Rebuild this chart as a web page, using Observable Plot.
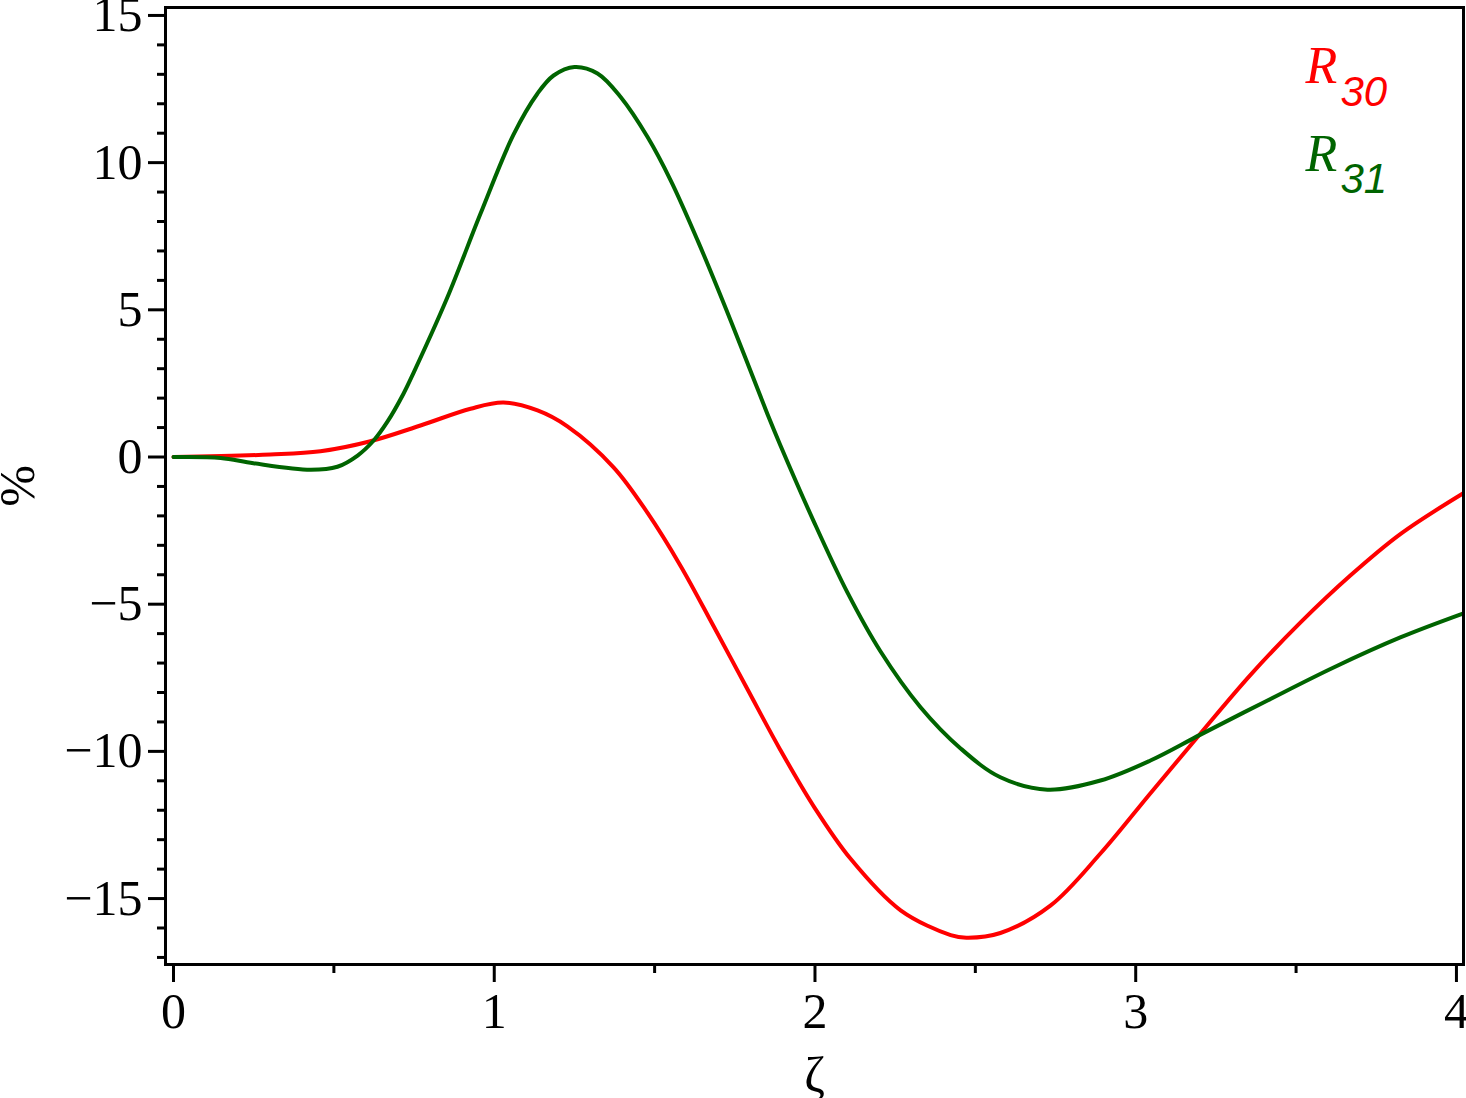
<!DOCTYPE html>
<html>
<head>
<meta charset="utf-8">
<script src="https://cdn.jsdelivr.net/npm/d3@7"></script>
<script src="https://cdn.jsdelivr.net/npm/@observablehq/plot@0.6"></script>
<style>
  html, body { margin: 0; padding: 0; background: #fff; }
  #chart svg { display: block; }
</style>
</head>
<body>
<div id="chart"></div>
<script>
// ζ values and series values
const zeta30 = [0, 0.302, 0.458, 0.614, 0.770, 0.926, 1.029, 1.135, 1.228, 1.372, 1.478, 1.581, 1.684, 1.790, 1.892, 1.998, 2.111, 2.267, 2.423, 2.472, 2.578, 2.734, 2.890, 3.046, 3.202, 3.358, 3.514, 3.670, 3.825, 4.02];
const r30 = [0, 0.085, 0.197, 0.537, 1.07, 1.64, 1.85, 1.58, 1.04, -0.35, -1.90, -3.70, -5.75, -7.90, -9.95, -11.90, -13.65, -15.40, -16.24, -16.33, -16.17, -15.24, -13.47, -11.42, -9.39, -7.40, -5.62, -4.02, -2.62, -1.24];

const zeta31 = [0, 0.147, 0.249, 0.427, 0.511, 0.574, 0.624, 0.667, 0.717, 0.748, 0.853, 0.957, 1.060, 1.135, 1.185, 1.250, 1.322, 1.394, 1.478, 1.550, 1.634, 1.737, 1.852, 1.892, 1.995, 2.101, 2.204, 2.329, 2.454, 2.578, 2.725, 2.890, 3.046, 3.202, 3.411, 3.617, 3.825, 4.02];
const r31 = [0, -0.03, -0.21, -0.43, -0.33, 0.05, 0.56, 1.20, 2.15, 2.85, 5.40, 8.26, 10.95, 12.35, 12.96, 13.25, 13.03, 12.23, 10.87, 9.40, 7.36, 4.64, 1.45, 0.40, -2.16, -4.60, -6.60, -8.50, -9.90, -10.88, -11.30, -10.99, -10.31, -9.43, -8.27, -7.15, -6.13, -5.32];

const seriesBase = ["R", "R"];
const seriesSub = ["30", "31"];
const seriesColor = ["#ff0000", "#006400"];

const xMajor = [0, 1, 2, 3, 4];
const xMinor = [0.5, 1.5, 2.5, 3.5];
const yMajor = [-15, -10, -5, 0, 5, 10, 15];
const yMinor = d3.range(-17, 16).filter(v => v % 5 !== 0);

const xLabel = "ζ";
const yLabel = "%";

const data30 = zeta30.map((z, i) => ({z, v: r30[i]}));
const data31 = zeta31.map((z, i) => ({z, v: r31[i]}));

const serif = "'Liberation Serif', 'Times New Roman', serif";
const sans = "'Liberation Sans', Arial, sans-serif";

const plot = Plot.plot({
  width: 1466,
  height: 1098,
  marginLeft: 165,
  marginRight: 3,
  marginTop: 7,
  marginBottom: 134,
  style: {fontFamily: serif, fontSize: "50px", background: "white", color: "black"},
  x: {domain: [-0.025, 4.022]},
  y: {domain: [-17.24, 15.27]},
  marks: [
    Plot.axisX(xMajor, {tickSize: 18, tickPadding: 10, strokeWidth: 3, fontSize: 50, label: null, tickFormat: d => String(d)}),
    Plot.axisX(xMinor, {tickSize: 9, strokeWidth: 3, label: null, tickFormat: () => ""}),
    Plot.axisY(yMajor, {tickSize: 17, tickPadding: 6, strokeWidth: 3, fontSize: 50, label: null, tickFormat: d => d < 0 ? "\u2212" + Math.abs(d) : String(d)}),
    Plot.axisY(yMinor, {tickSize: 8, strokeWidth: 3, label: null, tickFormat: () => ""}),
    Plot.line(data30, {x: "z", y: "v", stroke: seriesColor[0], strokeWidth: 4, curve: "catmull-rom"}),
    Plot.line(data31, {x: "z", y: "v", stroke: seriesColor[1], strokeWidth: 4, curve: "catmull-rom"}),
    Plot.frame({stroke: "black", strokeWidth: 3}),
    // legend
    Plot.text([seriesBase[0]], {text: d => d, frameAnchor: "top-right", dx: -158, dy: 75, textAnchor: "start", lineAnchor: "bottom", fill: seriesColor[0], fontSize: 52, fontStyle: "italic", fontFamily: serif}),
    Plot.text([seriesSub[0]], {text: d => d, frameAnchor: "top-right", dx: -123, dy: 98, textAnchor: "start", lineAnchor: "bottom", fill: seriesColor[0], fontSize: 42, fontStyle: "italic", fontFamily: sans}),
    Plot.text([seriesBase[1]], {text: d => d, frameAnchor: "top-right", dx: -158, dy: 163, textAnchor: "start", lineAnchor: "bottom", fill: seriesColor[1], fontSize: 52, fontStyle: "italic", fontFamily: serif}),
    Plot.text([seriesSub[1]], {text: d => d, frameAnchor: "top-right", dx: -123, dy: 185, textAnchor: "start", lineAnchor: "bottom", fill: seriesColor[1], fontSize: 42, fontStyle: "italic", fontFamily: sans}),
    // axis titles
    Plot.text([xLabel], {text: d => d, frameAnchor: "bottom", dy: 127, textAnchor: "middle", lineAnchor: "bottom", fill: "black", fontSize: 50}),
    Plot.text([yLabel], {text: d => d, frameAnchor: "left", dx: -148, rotate: -90, textAnchor: "middle", lineAnchor: "middle", fill: "black", fontSize: 50})
  ]
});
document.getElementById("chart").appendChild(plot);
</script>
</body>
</html>
